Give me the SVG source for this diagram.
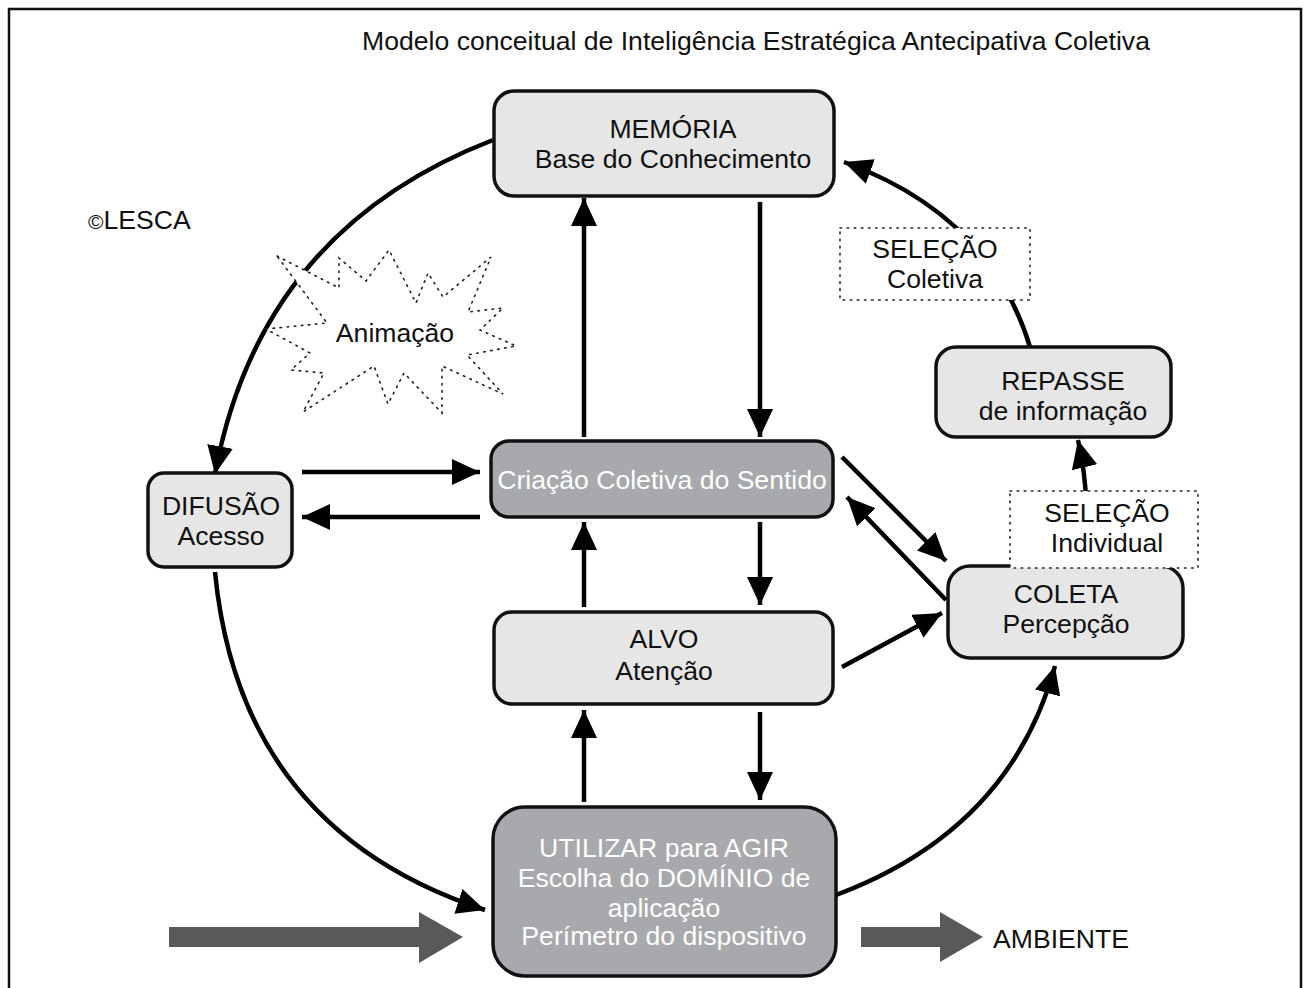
<svg xmlns="http://www.w3.org/2000/svg" width="1305" height="988" viewBox="0 0 1305 988">
<defs>
<style>
text{font-family:"Liberation Sans",Arial,sans-serif;font-size:26.6px;fill:#111;}
.c{text-anchor:middle;}
.w{fill:#ffffff;}
.light{fill:#e6e6e7;stroke:#111;stroke-width:3.5;}
.dark{fill:#a7a9ac;stroke:#111;stroke-width:3.5;}
.dot{fill:#ffffff;stroke:#222;stroke-width:1.6;stroke-dasharray:1.6 5.5;stroke-linecap:round;}
.ln{fill:none;stroke:#000;stroke-width:4.5;marker-end:url(#ah);}
.big{fill:#58595b;}
</style>
<marker id="ah" markerUnits="userSpaceOnUse" markerWidth="28" markerHeight="26" refX="28" refY="13" orient="auto">
<path d="M0,0 L28,13 L0,26 z" fill="#000"/>
</marker>
</defs>
<rect width="1305" height="988" fill="#fff"/>
<path d="M9,990 V9 H1301 V990" fill="none" stroke="#111" stroke-width="2.5"/>
<text id="title" x="756" y="50" class="c">Modelo conceitual de Inteligência Estratégica Antecipativa Coletiva</text>
<text id="lesca" x="88" y="229"><tspan font-size="21">©</tspan>LESCA</text>

<g id="connectors">
<path class="ln" d="M493,140 Q260,230 215,474"/>
<path class="ln" d="M215,572 Q240,830 485,910"/>
<path class="ln" d="M836,895 Q1010,830 1055,666"/>
<path class="ln" d="M1030,347 Q990,215 844,162"/>
<path class="ln" d="M1086,566 Q1090,490 1078,440"/>
<line class="ln" x1="584" y1="437" x2="584" y2="198"/>
<line class="ln" x1="760" y1="202" x2="760" y2="437"/>
<line class="ln" x1="584" y1="607" x2="584" y2="522"/>
<line class="ln" x1="760" y1="522" x2="760" y2="605"/>
<line class="ln" x1="584" y1="802" x2="584" y2="710"/>
<line class="ln" x1="760" y1="712" x2="760" y2="800"/>
<line class="ln" x1="302" y1="472" x2="480" y2="472"/>
<line class="ln" x1="480" y1="517" x2="302" y2="517"/>
<line class="ln" x1="842" y1="457" x2="946" y2="561"/>
<line class="ln" x1="946" y1="600" x2="847" y2="497"/>
<line class="ln" x1="842" y1="667" x2="942" y2="613"/>
<polygon class="big" points="169,927 419,927 419,912 463,937 419,963 419,947 169,947"/>
<polygon class="big" points="861,927 940,927 940,912 983,937 940,962 940,947 861,947"/>
</g>

<g id="animacao">
<polygon class="dot" points="277,256 339,288 339,258 366,281 389,250 416,303 428,273 443,297 491,257 468,312 503,308 480,330 516,346 467,355 503,394 442,366 442,413 404,373 388,404 374,366 303,412 324,373 291,370 310,353 266,329 327,323"/>
<text x="395" y="342" class="c">Animação</text>
</g>

<g id="memoria">
<rect class="light" x="494" y="91" width="340" height="105" rx="20"/>
<text x="673" y="138" class="c">MEMÓRIA</text>
<text x="673" y="168" class="c">Base do Conhecimento</text>
</g>

<g id="criacao">
<rect class="dark" x="491" y="441" width="342" height="76" rx="18"/>
<text x="662" y="489" class="c w">Criação Coletiva do Sentido</text>
</g>

<g id="alvo">
<rect class="light" x="494" y="612" width="339" height="92" rx="18"/>
<text x="664" y="648" class="c">ALVO</text>
<text x="664" y="680" class="c">Atenção</text>
</g>

<g id="utilizar">
<rect class="dark" x="493" y="807" width="343" height="169" rx="32"/>
<text x="664" y="857" class="c w">UTILIZAR para AGIR</text>
<text x="664" y="887" class="c w">Escolha do DOMÍNIO de</text>
<text x="664" y="917" class="c w">aplicação</text>
<text x="664" y="945" class="c w">Perímetro do dispositivo</text>
</g>

<g id="difusao">
<rect class="light" x="148" y="473" width="144" height="94" rx="16"/>
<text x="221" y="515" class="c">DIFUSÃO</text>
<text x="221" y="545" class="c">Acesso</text>
</g>

<g id="coleta">
<rect class="light" x="948" y="566" width="235" height="92" rx="22"/>
<text x="1066" y="603" class="c">COLETA</text>
<text x="1066" y="633" class="c">Percepção</text>
</g>

<g id="repasse">
<rect class="light" x="936" y="347" width="235" height="90" rx="20"/>
<text x="1063" y="390" class="c">REPASSE</text>
<text x="1063" y="420" class="c">de informação</text>
</g>

<g id="selecao-coletiva">
<rect class="dot" x="840" y="228" width="190" height="72"/>
<text x="935" y="258" class="c">SELEÇÃO</text>
<text x="935" y="288" class="c">Coletiva</text>
</g>

<g id="selecao-individual">
<rect class="dot" x="1010" y="491" width="188" height="77"/>
<text x="1107" y="522" class="c">SELEÇÃO</text>
<text x="1107" y="552" class="c">Individual</text>
</g>

<text id="ambiente" x="993" y="948">AMBIENTE</text>
</svg>
